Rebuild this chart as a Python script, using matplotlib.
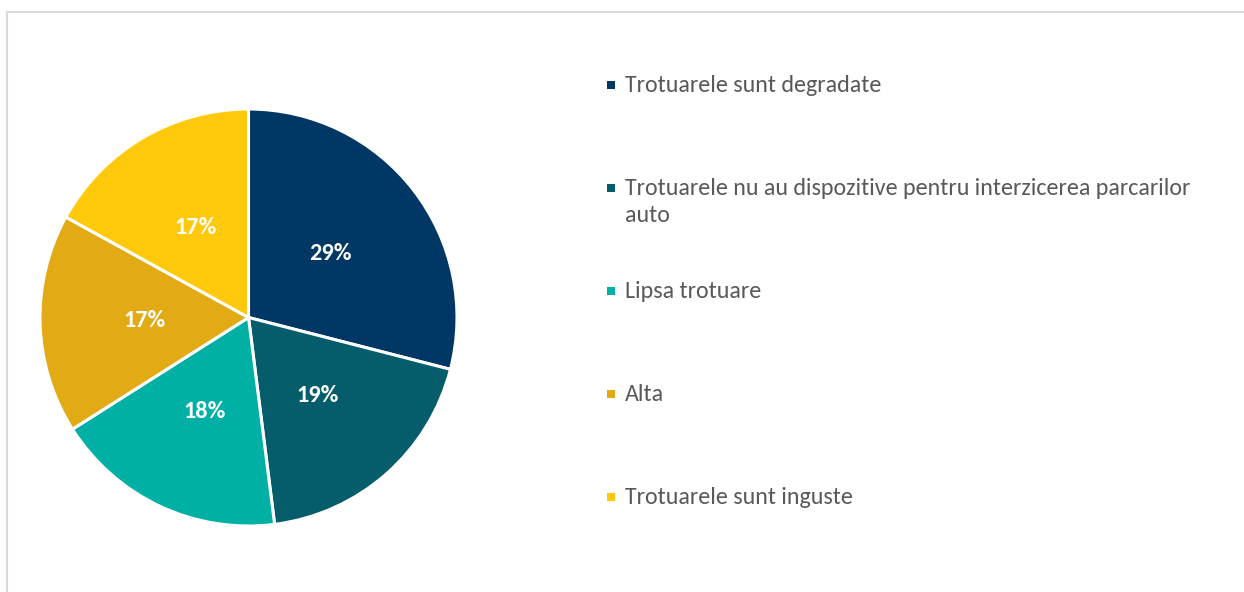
import matplotlib.pyplot as plt
from matplotlib.lines import Line2D
from matplotlib.patches import Rectangle

categories = [
    "Trotuarele sunt degradate",
    "Trotuarele nu au dispozitive pentru interzicerea parcarilor\nauto",
    "Lipsa trotuare",
    "Alta",
    "Trotuarele sunt inguste",
]
shares = [29, 19, 18, 17, 17]
colors = ["#003764", "#055D6B", "#00B0A5", "#E2AA15", "#FFC90B"]

plt.rcParams["font.family"] = ["Carlito", "Lato", "DejaVu Sans"]

W, H = 1244, 592
fig = plt.figure(figsize=(W / 100, H / 100), dpi=100)

# chart frame (left and top edges visible)
fig.add_artist(Line2D([7.5 / W, 7.5 / W], [0, 1 - 11.5 / H], transform=fig.transFigure,
                      color="#D9D9D9", lw=1.5))
fig.add_artist(Line2D([7.5 / W, 1], [1 - 11.5 / H, 1 - 11.5 / H], transform=fig.transFigure,
                      color="#D9D9D9", lw=1.5))

cx, cy, r = 248.5, 317.5, 208.5
ax = fig.add_axes([(cx - r) / W, (H - cy - r) / H, 2 * r / W, 2 * r / H])
wedges, texts, autotexts = ax.pie(
    shares, colors=colors, startangle=90, counterclock=False, radius=1,
    autopct=lambda p: f"{p:.0f}%", pctdistance=0.5,
    wedgeprops=dict(edgecolor="white", linewidth=2.2),
    textprops=dict(color="white", fontsize=17.5, fontweight="bold"),
)
ax.set_xlim(-1, 1)
ax.set_ylim(-1, 1)
ax.set_aspect("equal")
ax.axis("off")

# legend entries: square marker + label lines, first baseline just below marker centre
legend_y = [84.5, 187.5, 290.5, 393.5, 496.5]
sq = 8
line_step = 27
for label, col, y in zip(categories, colors, legend_y):
    fig.add_artist(Rectangle(((611.3 - sq / 2) / W, 1 - (y + sq / 2) / H), sq / W, sq / H,
                             transform=fig.transFigure, facecolor=col, edgecolor="none"))
    for i, line in enumerate(label.split("\n")):
        fig.text(625 / W, 1 - (y + 7.5 + i * line_step) / H, line, color="#595959",
                 fontsize=17.3, ha="left", va="baseline")

fig.savefig("out.png", dpi=100)
